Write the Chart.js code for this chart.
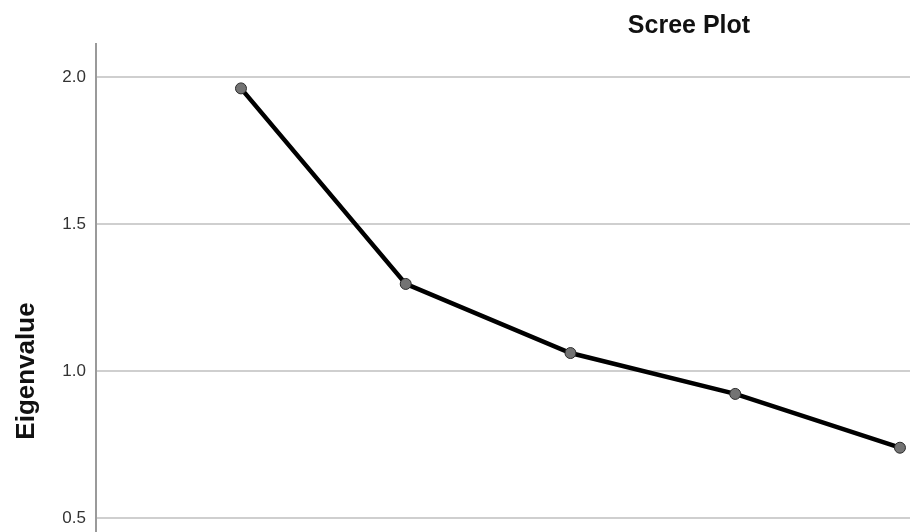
<!DOCTYPE html>
<html>
<head>
<meta charset="utf-8">
<script src="https://cdn.jsdelivr.net/npm/chart.js@4"></script>
<style>
    html, body { margin: 0; padding: 0; background: #fff; overflow: hidden; }
    #wrap { width: 910px; height: 532px; }
    canvas { display: block; }
</style>
</head>
<body>
<div id="wrap"><canvas id="screeChart" width="910" height="532"></canvas></div>
<script>
// Scree plot data (components 1-5 visible)
const components = [1, 2, 3, 4, 5];
const eigenvalues = [1.961, 1.296, 1.061, 0.922, 0.739];
const yTicks = [0.5, 1.0, 1.5, 2.0];

const chartTitle = 'Scree Plot';
const yTitle = 'Eigenvalue';

// Titles drawn where the original (cropped) plot had them
const titlesPlugin = {
    id: 'titles',
    afterDraw(chart) {
        const ctx = chart.ctx;
        ctx.save();
        ctx.fillStyle = '#111';
        ctx.textAlign = 'center';
        ctx.textBaseline = 'alphabetic';
        ctx.font = 'bold 25px "Liberation Sans", Arial, sans-serif';
        ctx.fillText(chartTitle, 689, 33);
        ctx.translate(34, 371);
        ctx.rotate(-Math.PI / 2);
        ctx.font = 'bold 26px "Liberation Sans", Arial, sans-serif';
        ctx.fillText(yTitle, 0, 0);
        ctx.restore();
    }
};

new Chart(document.getElementById('screeChart'), {
    type: 'line',
    data: {
        datasets: [{
            data: components.map((c, i) => ({ x: c, y: eigenvalues[i] })),
            borderColor: '#000',
            borderWidth: 4.5,
            pointRadius: 5.5,
            pointBackgroundColor: '#737373',
            pointBorderColor: '#2a2a2a',
            pointBorderWidth: 1,
            tension: 0
        }]
    },
    options: {
        responsive: false,
        animation: false,
        layout: { autoPadding: false, padding: { top: 44, right: 0, bottom: 0, left: 0 } },
        plugins: {
            legend: { display: false },
            tooltip: { enabled: false }
        },
        scales: {
            x: {
                type: 'linear',
                min: 0.12,
                max: 5.061,
                display: false
            },
            y: {
                min: 0.4524,
                max: 2.112,
                afterFit: scale => {
                    scale.width = 96;
                    // the plot runs off the bottom of the picture
                    scale.paddingTop = 0;
                    scale.paddingBottom = 0;
                },
                afterBuildTicks: scale => { scale.ticks = yTicks.map(v => ({ value: v })); },
                border: { display: true, color: '#9a9a9a', width: 2 },
                grid: { color: '#cfcfcf', lineWidth: 2, drawTicks: false },
                ticks: {
                    padding: 10,
                    color: '#333',
                    font: { family: '"Liberation Sans", Arial, sans-serif', size: 17 },
                    callback: v => v.toFixed(1)
                }
            }
        }
    },
    plugins: [titlesPlugin]
});
</script>
</body>
</html>
